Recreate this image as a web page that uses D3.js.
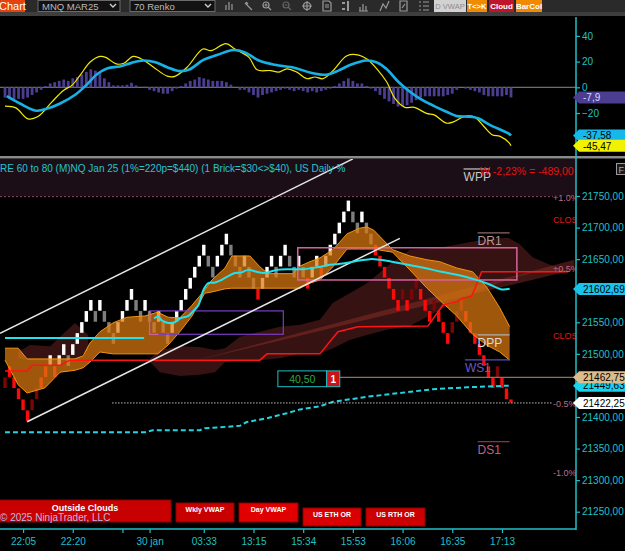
<!DOCTYPE html>
<html>
<head>
<meta charset="utf-8">
<script src="https://cdn.jsdelivr.net/npm/d3@7"></script>
<style>
  body { margin: 0; background: #000; }
  svg { display: block; font-family: "Liberation Sans", Arial, sans-serif; }
</style>
</head>
<body>
<div id="chart"></div>
<script>
// ---------------- data ----------------
// renko bricks: level of brick bottom (in bricks above base) and colour code
const brickBase = 21392.75, brickSize = 17.5, lastPrice = 21422.25;
const brickK = [3,4,3,2,1,0,1,2,3,4, 5,4,5,6,5,6,7,8,9,10, 9,10,9,8,7,8,9,10,11,10,
  9,10,9,8,9,8,7,8,9,10, 11,12,13,14,15,14,13,14,15,16, 15,14,13,14,13,12,11,12,13,14,
  13,14,15,14,13,14,13,12,13,14, 13,14,15,16,17,18,19,18,17,18, 17,16,15,14,13,12,11,10,11,10,
  11,12,11,10,9,10,9,8,7,8, 9,10,9,8,7,6,5,4,3,4, 3,2];
const brickCol = ("drrrrrddrr" + "wrwwgwwwww" + "gwgggwwwwg" + "gwggwggwww" + "wwwwwggwww" +
  "gggwggrwww" + "gwwggwgrww" + "rwwwwwwggw" + "ggrrrrrrdr" + "ddrrrdrrrd" + "ddrrrrrrrd" + "rr").split("");

// oscillator panel
const histVals = [-8,-9,-9,-9,-9,-8,-6,-4,-2,1, 3,4,5,6,5,7,8,10,12,14, 13,11,7,4,1.5,1.5,1.5,2,3.5,1.5,
  0,0.5,-2,-3,-4,-5,-5,-3,-1,1, 3,5,6,8,7,6,5,5,5,4, 2,0,-2,-2,-4,-6,-8,-6,-5,-4,
  -3,-2,-1,-2,-3,-2,-3,-4,-3,-4, -3,-2,-1,1,3,5,7,5,3,3, 1,-1,-3,-6,-9,-11,-13,-15,-15,-14,
  -12,-10,-8,-7,-7,-7,-7,-7,-6,-5, -2,0,-1,-2,-3,-4,-6,-7,-7,-7, -7,-6,-7.9];
const macdIdx = [0,2.4,5.1,7.3,10.4,13,14.8,16.6,18.8,21,22.3,24.6,26.3,28.4,30.6,32.9,35.9,37.6,40.3,43.8,
  45.6,48.9,50.9,54,55.8,58.8,60.6,62.4,64.6,66.8,68.6,70.4,72.6,75.7,78.3,80.1,82.3,84.5,86.3,88.5,
  90.6,93.3,95,97.7,99.4,101.6,103.8,106,107.8,109.6,111.6,112];
const macdVal = [-14.6,-16,-24.6,-22.8,-11.3,-2.3,1.5,9.2,19.5,24,23.3,18.2,18.7,24,21.3,15.6,8.7,8.5,15.6,29.8,
  28.5,34,29.8,23.3,13.6,13,11.8,14.4,11.8,6.7,8,6.7,13,24.6,25.1,22,14.4,4.1,-8.7,-15.6,
  -15.6,-20.3,-21.5,-27.9,-26.7,-22.8,-22.8,-30.5,-36.9,-38.2,-43.3,-45.47];
const sigIdx = [0.4,3.3,6.9,9.5,12.2,15.7,17.9,20.5,22.7,25.4,28,30.6,33.3,35.9,38.6,40.8,43.9,46.9,50.5,53.1,
  56.2,59.7,64.2,67.7,71.2,73.8,76.5,80,82.2,84.4,87.1,89.7,92.4,95,97.7,99.9,102.5,104.7,107.3,111.6,112];
const sigVal = [-6.9,-12.6,-18.2,-16.4,-12.6,-5.4,1.5,10.5,14.9,16.2,19,20.8,19.5,15.6,12.6,13.8,21.3,25.1,29,27.2,
  20.8,17.5,15.1,11.3,9.8,13,17.5,20.8,19.5,14.4,4.1,-3.6,-10,-14.6,-19,-22.3,-22.8,-24.1,-29.2,-36.2,-37.58];

// orange cloud (two spans)
const cloudIdx = [0,2.9,4.9,8.8,12.2,15.5,17.3,18.8,21,23.9,27,31,33.8,36.1,38.7,41.4,44.2,45.8,48.7,50.2,
  54.2,56.4,58.2,63.7,65.3,67.5,69.7,72.6,75.7,78.5,80.1,81.6,85.8,89.6,93.4,96.2,100,103.5,106.6,109.5,111.7];
const cloudTop = [21509,21509,21492,21492,21492,21492,21497,21517,21535,21549,21558,21560,21566,21558,21557,21577,21601,21617,21636,21655,
  21655,21638,21627,21627,21639,21646,21652,21665,21690,21699,21701,21696,21665,21655,21649,21646,21636,21630,21606,21573,21543];
const cloudBot = [21490,21451,21438,21446,21471,21474,21478,21487,21503,21500,21500,21500,21500,21514,21535,21560,21596,21598,21603,21604,
  21604,21604,21604,21604,21604,21612,21617,21638,21666,21666,21666,21666,21661,21633,21604,21585,21560,21531,21514,21503,21490];

// dark higher-timeframe cloud
const kumoIdx = [32.1,34.3,38.7,43.1,46.5,48.7,52,56.4,60.8,65.3,69.7,72.6,76.3,80.1,84.5,89.6,96.2,105.1,111.3,113.9,116.8,120.6,124.6];
const kumoTop = [21493,21506,21512,21511,21506,21509,21527,21535,21543,21546,21554,21581,21596,21612,21638,21665,21668,21680,21684,21674,21653,21641,21631];
const kumoBot = [21487,21471,21465,21467,21471,21487,21490,21490,21493,21500,21500,21509,21522,21530,21538,21544,21569,21601,21617,21623,21628,21630,21631];
const kumo2Idx = [2.9,5.5,10,12.6,15.5,18.4];
const kumo2Top = [21503,21514,21512,21530,21549,21530];
const kumo2Bot = [21493,21490,21490,21490,21490,21506];

// red stepped line
const redIdx = [0,4.9,6,12.2,14.4,56.4,58,69.7,73.7,78.1,93.6,96.9,100,101.3,103.3,105.5,124.6];
const redPrice = [21473,21473,21482,21482,21490,21490,21500,21500,21535,21543,21544,21577,21583,21588,21591,21630,21630];

// cyan averages
const avg1Idx = [0, 30.8], avg1Price = [21525, 21525];
const avgIdx = [33,33.9,34.7,36.1,37.6,38.7,40.6,41.7,42.8,43.9,45,46.5,47.9,49.4,50.9,52.4,53.8,55.7,57.1,58.6,
  60.1,63.1,66,69,71.9,74.8,77.8,80.8,83,85.6,89.2,92.9,96.6,100.3,104,106.9,109.9,111.7];
const avgPrice = [21556,21559,21553,21549,21550,21556,21560,21568,21577,21601,21612,21613,21617,21623,21628,21629,21633,21630,21628,21630,
  21633,21634,21634,21637,21641,21643,21647,21650,21649,21646,21641,21636,21630,21625,21618,21611,21602,21603];
const vwapIdx = [0,31,32.7,43.1,44.2,52,53.5,58,62.4,65.3,69.7,72.6,80.1,87.4,94.7,102.2,111.5];
const vwapPrice = [21376,21376,21379,21379,21382,21386,21392,21398,21406,21412,21417,21424,21432,21438,21444,21447,21449.6];

// drawing objects
const chanUpper = [[-1.1, 21532.5], [77, 21808.8]];
const chanLower = [[4.9, 21392.5], [87.4, 21683]];
const regBand = [[40.9, 21487], [126, 21641]];
const zonePink = [64.8, 113.3, 21668, 21617];
const zonePurple = [32, 61.6, 21568, 21531];

// pivots
const pivotNames = ["WPP", "DR1", "DPP", "WS1", "DS1"];
const pivotPrices = [21792.8, 21691.6, 21529.9, 21490.3, 21360.9];
const pivotFrom = [101.5, 104.6, 104.6, 101.8, 104.6];
const pivotTo = [107.3, 111.7, 111.7, 111.7, 111.7];
const pivotCol = ["#c8c8c8", "#b89898", "#dcdcdc", "#6a5acd", "#c0608a"];
const pivotLine = ["#c8c8c8", "#8a6a6a", "#b0b0b0", "#5a4cc0", "#8a3050"];

// daily % levels
const pctNames = ["+1.0%", "CLOS", "+0.5%", "CLOS", "-0.5%", "-1.0%"];
const pctPrices = [21749, 21713.6, 21636, 21529.9, 21422.25, 21312.9];

// axis ticks and tags
const priceTicks = d3.range(21250, 21751, 50);
const hiddenTicks = [21600, 21450]; // covered by value tags
const oscTicks = [40, 20, 0, -20];
const timeIdx = [4, 15, 26, 32, 44, 55, 66, 77, 88, 99, 110];
const timeLabels = ["22:05", "22:20", "", "30 jan", "03:33", "13:15", "15:34", "15:53", "16:06", "16:35", "17:13"];
const avgLast = 21602.69, vwapLast = 21449.63, tanLevel = 21462.75;
const histLast = -7.9, sigLast = -37.58, macdLast = -45.47;
const wppText = "W -2,23% = -489,00";
const headerText = "RE 60 to 80 (M)NQ Jan 25 (1%=220p=$440) (1 Brick=$30<>$40), US Daily %";
const boxVal = "40,50", boxQty = "1";
const bottomBtns = ["Outside Clouds", "Wkly VWAP", "Day VWAP", "US ETH OR", "US RTH OR"];

// ---------------- chart ----------------
const width = 625, height = 551, axisX = 576;
const cyan = "#1fc0c8";

const x = d3.scaleLinear().domain([0, 112]).range([5, 511]);
const yP = d3.scaleLinear().domain([21250, 21750]).range([511.7, 196]);
const yM = d3.scaleLinear().domain([-20, 40]).range([113, 35.9]);
const fmt = d => d3.format(".2f")(d).replace(".", ",");

const svg = d3.select("#chart").append("svg")
  .attr("width", width).attr("height", height);
svg.append("rect").attr("width", width).attr("height", height).attr("fill", "#000");

const defs = svg.append("defs");
defs.append("clipPath").attr("id", "clipMain").append("rect")
  .attr("x", 0).attr("y", 159).attr("width", axisX).attr("height", 370);
defs.append("clipPath").attr("id", "clipOsc").append("rect")
  .attr("x", 0).attr("y", 17).attr("width", axisX).attr("height", 139);

/* toolbar */
const tb = svg.append("g");
tb.append("rect").attr("width", width).attr("height", 12).attr("fill", "#2a2a2a");
tb.append("rect").attr("y", 12).attr("width", width).attr("height", 4).attr("fill", "#3e3e3e");
tb.append("rect").attr("width", 25).attr("height", 12).attr("fill", "#e4420e");
tb.append("text").attr("x", -1).attr("y", 10).attr("fill", "#fff").attr("font-size", 11).text("Chart");
[[38, 120, "MNQ MAR25"], [130, 215, "70 Renko"]].forEach(d => {
  tb.append("rect").attr("x", d[0]).attr("y", 0.5).attr("width", d[1] - d[0]).attr("height", 11)
    .attr("fill", "#121212").attr("stroke", "#6a6a6a");
  tb.append("text").attr("x", d[0] + 4).attr("y", 9.5).attr("fill", "#bbb").attr("font-size", 9.5).text(d[2]);
  tb.append("path").attr("d", `M${d[1] - 10},4 l3,3 l3,-3`).attr("stroke", "#ccc").attr("stroke-width", 1.4).attr("fill", "none");
});
// toolbar icons (simple glyphs)
const ic = tb.append("g").attr("stroke", "#9a9a9a").attr("fill", "none").attr("stroke-width", 1.2);
ic.append("path").attr("d", "M226,10 v-5 M229,10 v-8 M232,10 v-6");
ic.append("path").attr("d", "M245,3 l7,7 M246,2 l2,2");
ic.append("circle").attr("cx", 266).attr("cy", 5).attr("r", 3);
ic.append("path").attr("d", "M268,7 l3,3 M264.5,5 h3 M266,3.5 v3");
ic.append("circle").attr("cx", 286).attr("cy", 5).attr("r", 3).attr("stroke", "#666");
ic.append("path").attr("d", "M288,7 l3,3 M284.5,5 h3").attr("stroke", "#666");
ic.append("circle").attr("cx", 307).attr("cy", 6).attr("r", 3.5);
ic.append("path").attr("d", "M307,1 v10 M302,6 h10");
ic.append("path").attr("d", "M323,1 h6 l2,2 v8 h-8 z M325,5 h4 M325,7 h4");
ic.append("path").attr("d", "M342,3 h3 M342,9 h3 M348,1 v10").attr("stroke-width", 2);
ic.append("path").attr("d", "M360,11 v-4 M363,11 v-7 M366,11 v-5 M359,11 h9");
ic.append("path").attr("d", "M380,11 l3,-7 l3,4 l3,-7");
ic.append("path").attr("d", "M400,1 h7 v10 h-7 z M402,8 l3,-4");
ic.append("path").attr("d", "M419,2 h2 M423,2 h6 M419,6 h2 M423,6 h6 M419,10 h2 M423,10 h6");
const btn = (x0, x1, fill, col, label, fs, fw) => {
  tb.append("rect").attr("x", x0).attr("y", 0).attr("width", x1 - x0).attr("height", 12).attr("fill", fill);
  tb.append("text").attr("x", (x0 + x1) / 2).attr("y", 9).attr("text-anchor", "middle")
    .attr("fill", col).attr("font-size", fs).attr("font-weight", fw).text(label);
};
btn(434, 466, "#d2d2d2", "#8c8c8c", "D VWAP", 7.5, "normal");
btn(467, 487, "#f08a00", "#fff", "T<>K", 7.5, "bold");
btn(489, 514, "#c0142a", "#fff", "Cloud", 8, "bold");
btn(516, 542, "#f08a00", "#fff", "BarCol", 8, "bold");

/* oscillator panel */
const osc = svg.append("g").attr("clip-path", "url(#clipOsc)");
osc.append("line").attr("x1", 0).attr("x2", axisX).attr("y1", yM(0)).attr("y2", yM(0))
  .attr("stroke", "#8a8a8a");
osc.selectAll(".hist").data(histVals).enter().append("rect")
  .attr("class", "hist")
  .attr("x", (d, i) => x(i) - 1.4).attr("width", 2.8)
  .attr("y", d => Math.min(yM(0), yM(d)))
  .attr("height", d => Math.abs(yM(d) - yM(0)))
  .attr("fill", "#4b3d8f");
const oscLine = d3.line().x(d => x(d[0])).y(d => yM(d[1])).curve(d3.curveCatmullRom);
osc.append("path").attr("d", oscLine(macdIdx.map((v, i) => [v, macdVal[i]])))
  .attr("fill", "none").attr("stroke", "#f2ea00").attr("stroke-width", 1.2);
osc.append("path").attr("d", oscLine(sigIdx.map((v, i) => [v, sigVal[i]])))
  .attr("fill", "none").attr("stroke", "#16b2e6").attr("stroke-width", 2.6);

svg.append("rect").attr("x", 0).attr("y", 156).attr("width", width).attr("height", 2.5).attr("fill", "#8a8a8a");

/* main price panel */
const main = svg.append("g").attr("clip-path", "url(#clipMain)");
main.append("rect").attr("x", 0).attr("y", 159).attr("width", axisX).attr("height", yP(21749) - 159)
  .attr("fill", "#1c0e17");
main.append("line").attr("x1", 0).attr("x2", 553).attr("y1", yP(21749)).attr("y2", yP(21749))
  .attr("stroke", "#8a4a70").attr("stroke-dasharray", "2,2");

const area = (idx, top, bot) => d3.area()
  .x(d => x(d[0])).y0(d => yP(d[2])).y1(d => yP(d[1]))(idx.map((v, i) => [v, top[i], bot[i]]));

// dark cloud
main.append("path").attr("d", area(kumoIdx, kumoTop, kumoBot)).attr("fill", "#4a1818").attr("opacity", 0.75);
main.append("path").attr("d", area(kumo2Idx, kumo2Top, kumo2Bot)).attr("fill", "#4a1818").attr("opacity", 0.75);

// widening regression band
main.append("path")
  .attr("d", `M${x(regBand[0][0])},${yP(regBand[0][1])} L${x(regBand[1][0])},${yP(regBand[1][1] + 8)} L${x(regBand[1][0])},${yP(regBand[1][1] - 8)} Z`)
  .attr("fill", "rgba(160,55,45,0.4)");

// renko bricks
const bricks = brickK.map((k, i) => ({ i, lo: brickBase + k * brickSize, hi: brickBase + (k + 1) * brickSize, c: brickCol[i] }));
bricks.push({ i: 112, lo: lastPrice, hi: brickBase + 2 * brickSize, c: "r" });
const brickFill = { w: "#ffffff", g: "#7e7e7e", r: "#ff0a0a", d: "#7a0606" };
main.selectAll(".brick").data(bricks).enter().append("rect")
  .attr("class", "brick")
  .attr("x", d => x(d.i) - 1.7).attr("width", 3.4)
  .attr("y", d => yP(d.hi)).attr("height", d => yP(d.lo) - yP(d.hi) - 0.4)
  .attr("fill", d => brickFill[d.c]);

// orange cloud over bricks
main.append("path").attr("d", area(cloudIdx, cloudTop, cloudBot)).attr("fill", "#dc7810").attr("opacity", 0.72);
const pLine = d3.line().x(d => x(d[0])).y(d => yP(d[1]));
main.append("path").attr("d", pLine(cloudIdx.map((v, i) => [v, cloudTop[i]])))
  .attr("fill", "none").attr("stroke", "#f29412").attr("stroke-width", 1);
main.append("path").attr("d", pLine(cloudIdx.map((v, i) => [v, cloudBot[i]])))
  .attr("fill", "none").attr("stroke", "#f29412").attr("stroke-width", 1);

// zones
main.append("rect").attr("x", x(zonePurple[0])).attr("y", yP(zonePurple[2]))
  .attr("width", x(zonePurple[1]) - x(zonePurple[0])).attr("height", yP(zonePurple[3]) - yP(zonePurple[2]))
  .attr("fill", "none").attr("stroke", "#7c3cc4").attr("stroke-width", 1.2);
main.append("path")
  .attr("d", `M${x(zonePurple[0])},${yP(zonePurple[2])} V${yP(zonePurple[3])} H${x(zonePurple[0] + 2)}`)
  .attr("fill", "none").attr("stroke", "#d0609a").attr("stroke-width", 1.2);
main.append("rect").attr("x", x(zonePink[0])).attr("y", yP(zonePink[2]))
  .attr("width", x(zonePink[1]) - x(zonePink[0])).attr("height", yP(zonePink[3]) - yP(zonePink[2]))
  .attr("fill", "none").attr("stroke", "#d8649e").attr("stroke-width", 1.5);

// red stepped line
main.append("path").attr("d", pLine(redIdx.map((v, i) => [v, redPrice[i]])))
  .attr("fill", "none").attr("stroke", "#ff1414").attr("stroke-width", 1.5);

// channel lines
[chanUpper, chanLower].forEach(c => {
  main.append("path").attr("d", pLine(c)).attr("stroke", "#e6e6e6").attr("stroke-width", 1.5);
});

// cyan averages
main.append("path").attr("d", pLine(avg1Idx.map((v, i) => [v, avg1Price[i]])))
  .attr("fill", "none").attr("stroke", "#22e2ec").attr("stroke-width", 2);
main.append("path").attr("d", pLine.curve(d3.curveCatmullRom)(avgIdx.map((v, i) => [v, avgPrice[i]])))
  .attr("fill", "none").attr("stroke", "#22e2ec").attr("stroke-width", 2);
pLine.curve(d3.curveLinear);
main.append("path").attr("d", pLine(vwapIdx.map((v, i) => [v, vwapPrice[i]])))
  .attr("fill", "none").attr("stroke", "#22d4e0").attr("stroke-width", 2).attr("stroke-dasharray", "5,3");

// last price dotted line and tan level
main.append("line").attr("x1", x(23.7)).attr("x2", 553).attr("y1", yP(lastPrice)).attr("y2", yP(lastPrice))
  .attr("stroke", "#bdbdbd").attr("stroke-dasharray", "1.5,1.5");
main.append("line").attr("x1", x(74.1)).attr("x2", axisX).attr("y1", yP(tanLevel)).attr("y2", yP(tanLevel))
  .attr("stroke", "#8a7458").attr("stroke-width", 1.3);

// pivots
pivotNames.forEach((n, k) => {
  const y = yP(pivotPrices[k]);
  main.append("line").attr("x1", x(pivotFrom[k])).attr("x2", x(pivotTo[k])).attr("y1", y).attr("y2", y)
    .attr("stroke", pivotLine[k]).attr("stroke-width", 1.2);
  main.append("text").attr("x", x(pivotFrom[k])).attr("y", y + 12).attr("fill", pivotCol[k])
    .attr("font-size", 12).text(n);
});

// order box
const bx0 = x(60.4), bx1 = x(71.2), bx2 = x(74.1), by0 = yP(21473), by1 = yP(21448);
main.append("rect").attr("x", bx0).attr("y", by0).attr("width", bx1 - bx0).attr("height", by1 - by0)
  .attr("fill", "#000").attr("stroke", "#1fc0c8");
main.append("text").attr("x", (bx0 + bx1) / 2).attr("y", by1 - 4).attr("text-anchor", "middle")
  .attr("fill", "#2fa844").attr("font-size", 10.5).text(boxVal);
main.append("rect").attr("x", bx1).attr("y", by0).attr("width", bx2 - bx1).attr("height", by1 - by0)
  .attr("fill", "#c81414").attr("stroke", "#1fc0c8");
main.append("text").attr("x", (bx1 + bx2) / 2).attr("y", by1 - 4).attr("text-anchor", "middle")
  .attr("fill", "#fff").attr("font-size", 10).attr("font-weight", "bold").text(boxQty);

// % labels on right
pctNames.forEach((n, k) => {
  main.append("text").attr("x", 553).attr("y", yP(pctPrices[k]) + 4)
    .attr("fill", n === "CLOS" ? "#e01818" : "#c06a8a").attr("font-size", 9).text(n);
});

// header texts
main.append("text").attr("x", 0).attr("y", 172).attr("fill", "#22c4d0").attr("font-size", 10).text(headerText);
main.append("text").attr("x", 480).attr("y", 175).attr("fill", "#e81010").attr("font-size", 10.5).text(wppText);

/* bottom buttons */
const bb = svg.append("g");
const bRect = (x0, x1, y0, y1, fill, label, fs) => {
  bb.append("rect").attr("x", x0).attr("y", y0).attr("width", x1 - x0).attr("height", y1 - y0)
    .attr("fill", fill).attr("stroke", "#8a0000");
  bb.append("text").attr("x", (x0 + x1) / 2).attr("y", y0 + fs + 1.5).attr("text-anchor", "middle")
    .attr("fill", "#fff").attr("font-size", fs).attr("font-weight", "bold").text(label);
};
bRect(-1, 171, 500, 522, "#c80000", bottomBtns[0], 9);
bRect(176, 234, 503, 522, "#c80000", bottomBtns[1], 7);
bRect(239, 298, 503, 522, "#e00000", bottomBtns[2], 7);
bRect(303, 361, 508, 526, "#d80000", bottomBtns[3], 7);
bRect(366, 425, 508, 526, "#cc0000", bottomBtns[4], 7);
bb.append("text").attr("x", 0).attr("y", 521).attr("fill", "#b4bce0").attr("font-size", 10)
  .text("\u00a9 2025 NinjaTrader, LLC");

/* axes */
svg.append("line").attr("x1", axisX).attr("x2", axisX).attr("y1", 17).attr("y2", 530)
  .attr("stroke", cyan).attr("stroke-width", 1.5);
svg.append("line").attr("x1", 0).attr("x2", axisX).attr("y1", 529).attr("y2", 529)
  .attr("stroke", cyan).attr("stroke-width", 1.5);

const styleAxis = g => {
  g.select(".domain").remove();
  g.selectAll("line").attr("stroke", cyan).attr("stroke-width", 1.2);
  g.selectAll("text").attr("fill", cyan).attr("font-size", 10).attr("font-family", "Liberation Sans, Arial, sans-serif");
};
svg.append("g").attr("transform", `translate(${axisX},0)`)
  .call(d3.axisRight(yP).tickValues(priceTicks).tickSize(4).tickPadding(2)
    .tickFormat(d => hiddenTicks.includes(d) ? "" : fmt(d)))
  .call(styleAxis);
svg.append("g").attr("transform", `translate(${axisX},0)`)
  .call(d3.axisRight(yM).tickValues(oscTicks).tickSize(4).tickPadding(2))
  .call(styleAxis);
svg.append("g").attr("transform", "translate(0,529)")
  .call(d3.axisBottom(x).tickValues(timeIdx).tickSize(4).tickPadding(5).tickFormat((d, i) => timeLabels[i]))
  .call(styleAxis);

// value tags
const tag = (y, label, fill, col) => {
  svg.append("path").attr("d", `M573,${y} L579,${y - 6} H625 V${y + 6} H579 Z`).attr("fill", fill);
  svg.append("text").attr("x", 583).attr("y", y + 3.8).attr("fill", col).attr("font-size", 10).text(label);
};
tag(yM(histLast), "-7,9", "#4b3d8f", "#d8d8ff");
tag(yM(sigLast), "-37,58", "#16b8ec", "#000");
tag(yM(macdLast), "-45,47", "#f2f200", "#000");
tag(yP(avgLast), fmt(avgLast), "#18c4ee", "#000");
tag(yP(vwapLast), fmt(vwapLast), "#18d4ee", "#000");
tag(yP(tanLevel), fmt(tanLevel), "#dcbc8c", "#000");
tag(yP(lastPrice), fmt(lastPrice), "#ffffff", "#000");

// small F button top right
svg.append("rect").attr("x", 616.5).attr("y", 163.5).attr("width", 10).attr("height", 11)
  .attr("fill", "#1a1a1a").attr("stroke", "#9a9a9a");
svg.append("text").attr("x", 618.5).attr("y", 172.5).attr("fill", "#aaa").attr("font-size", 9).text("F");
</script>
</body>
</html>
